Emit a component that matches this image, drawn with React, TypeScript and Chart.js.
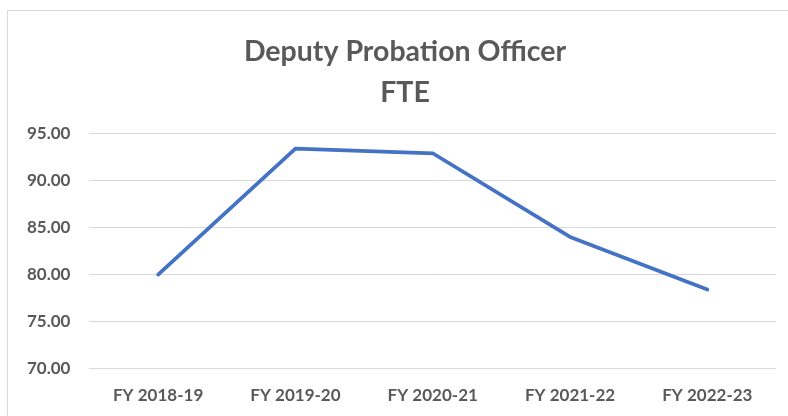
import React, { useEffect, useRef } from "react";
import { Chart, registerables } from "chart.js";

Chart.register(...registerables);

const categories = ["FY 2018-19", "FY 2019-20", "FY 2020-21", "FY 2021-22", "FY 2022-23"];
const fteValues = [80.0, 93.4, 92.9, 84.0, 78.4];
const titleLines = ["Deputy Probation Officer", "FTE"];
const yMin = 70;
const yMax = 95;
const yStep = 5;

const titleShift = {
  id: "titleShift",
  afterLayout(chart: any) {
    if (chart.titleBlock) {
      chart.titleBlock.left += 26;
    }
  },
};

export default function App() {
  const ref = useRef<HTMLCanvasElement | null>(null);

  useEffect(() => {
    if (!ref.current) return;
    const chart = new Chart(ref.current, {
      type: "line",
      data: {
        labels: categories,
        datasets: [
          {
            label: "FTE",
            data: fteValues,
            borderColor: "#4472C4",
            backgroundColor: "#4472C4",
            borderWidth: 3.75,
            pointRadius: 0,
            pointHoverRadius: 0,
            tension: 0,
            borderCapStyle: "round",
            borderJoinStyle: "round",
          },
        ],
      },
      plugins: [titleShift],
      options: {
        responsive: false,
        animation: false,
        layout: { autoPadding: false, padding: { left: 8, right: 12, top: 0, bottom: -7 } },
        plugins: {
          legend: { display: false },
          tooltip: { enabled: false },
          title: {
            display: true,
            text: titleLines,
            color: "#595959",
            font: { family: "Lato", size: 28.5, weight: "bold", lineHeight: 1.43 },
            padding: { top: 31.5, bottom: 20.5 },
          },
        },
        scales: {
          x: {
            offset: true,
            grid: { display: false, drawTicks: false },
            border: { display: false },
            ticks: {
              color: "#595959",
              font: { family: "Lato", size: 17, weight: "bold" },
              padding: 17,
              maxRotation: 0,
            },
          },
          y: {
            min: yMin,
            max: yMax,
            grid: { color: "#d9d9d9", lineWidth: 1, drawTicks: false },
            border: { display: false },
            ticks: {
              stepSize: yStep,
              color: "#595959",
              font: { family: "Lato", size: 17, weight: "bold" },
              padding: 19,
              callback: (v: any) => Number(v).toFixed(2),
            },
          },
        },
      },
    });
    return () => chart.destroy();
  }, []);

  return (
    <div style={{ position: "fixed", left: 0, top: 0, width: 788, height: 416, background: "#fff", overflow: "hidden" }}>
      <div
        style={{
          position: "absolute",
          left: 7,
          top: 10,
          width: 800,
          height: 420,
          border: "1px solid #d9d9d9",
          boxSizing: "border-box",
        }}
      />
      <canvas ref={ref} width={788} height={416} style={{ position: "absolute", left: 0, top: 0 }} />
    </div>
  );
}
